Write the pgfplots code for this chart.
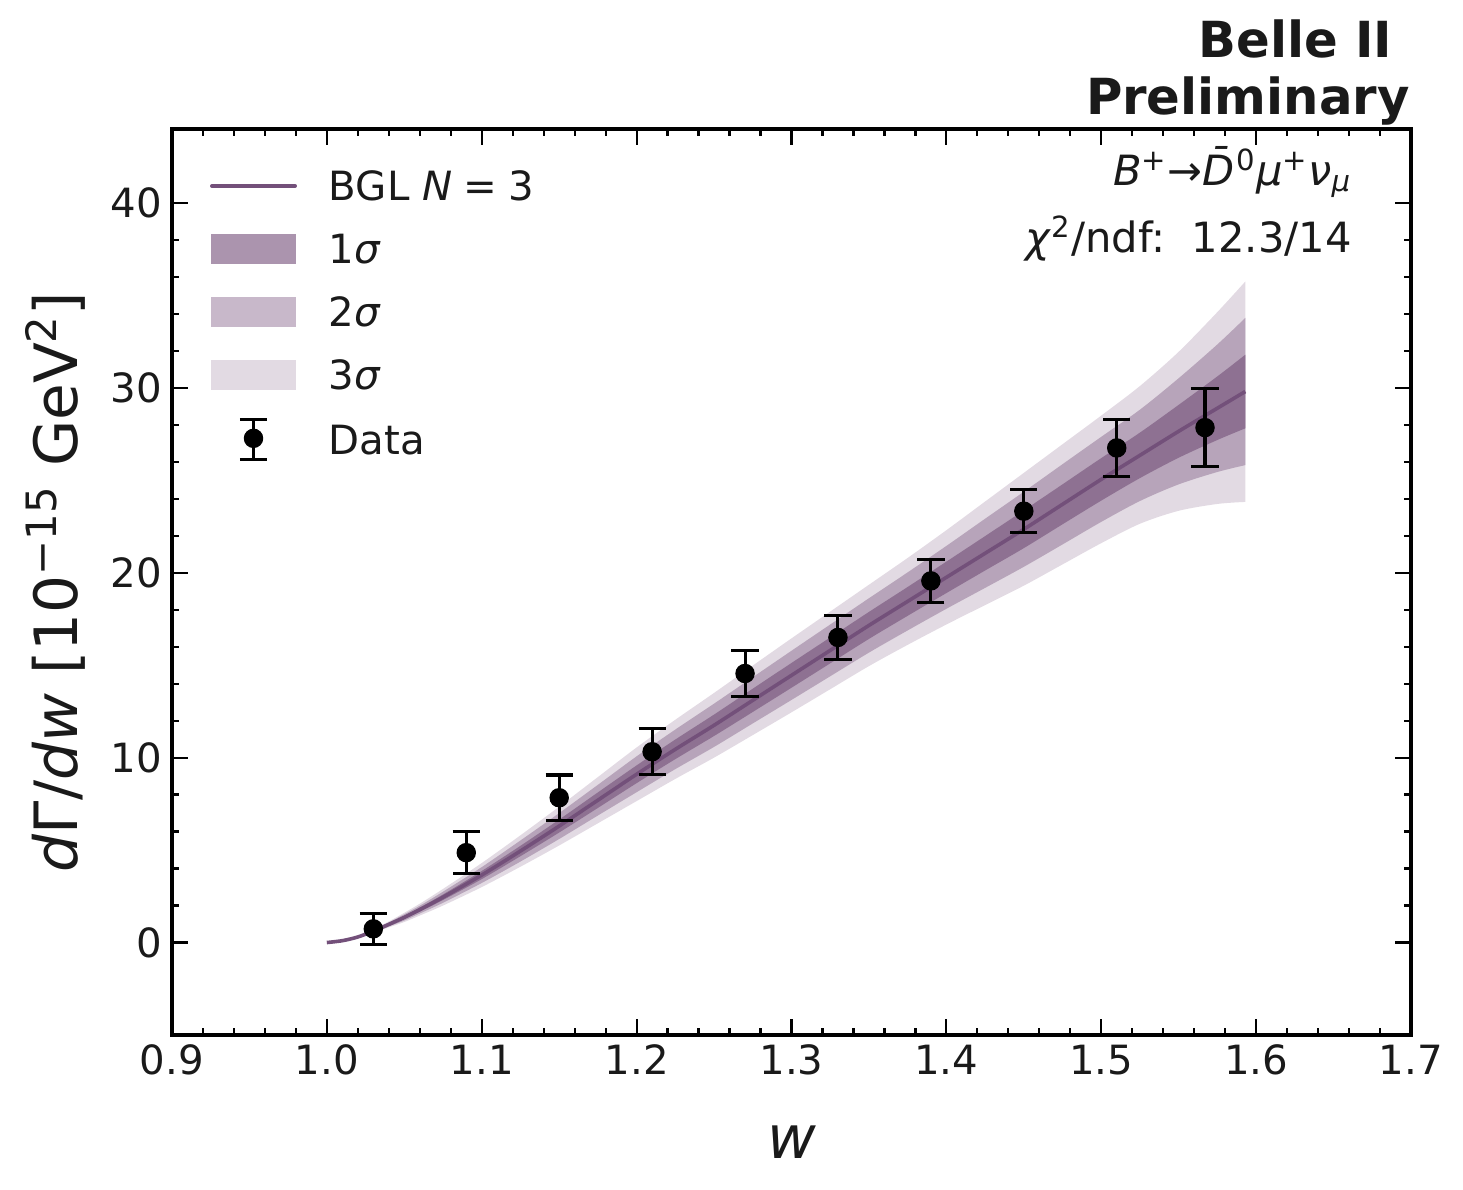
\documentclass[border=0pt]{standalone}
\usepackage{fontspec}
\setmainfont{DejaVu Sans}
\usepackage{pgfplots}
\pgfplotsset{compat=1.18}
\usepackage{pgfplotstable}
\usepgfplotslibrary{fillbetween}

\definecolor{cline}{HTML}{73507A}
\definecolor{cone}{HTML}{8E7192}
\definecolor{ctwo}{HTML}{B7A4BA}
\definecolor{cthree}{HTML}{E2DAE3}
\definecolor{lone}{HTML}{AB94AE}
\definecolor{ltwo}{HTML}{C8B8CA}
\definecolor{lthree}{HTML}{E2DAE3}
\definecolor{ctext}{HTML}{1A1A1A}

\pgfplotstableread{
w c lo3 lo2 lo1 hi1 hi2 hi3
1.000 0.00 0.00 0.00 0.00 0.00 0.00 0.00
1.010 0.10 0.09 0.09 0.10 0.10 0.11 0.11
1.020 0.30 0.25 0.27 0.28 0.32 0.33 0.35
1.030 0.62 0.52 0.55 0.59 0.65 0.69 0.72
1.040 0.98 0.82 0.87 0.93 1.03 1.09 1.14
1.050 1.36 1.11 1.19 1.28 1.44 1.53 1.61
1.060 1.78 1.46 1.57 1.67 1.89 1.99 2.10
1.075 2.45 2.00 2.15 2.30 2.60 2.75 2.90
1.100 3.65 3.00 3.22 3.43 3.87 4.08 4.30
1.125 4.95 4.10 4.38 4.67 5.23 5.52 5.80
1.150 6.30 5.25 5.60 5.95 6.65 7.00 7.35
1.175 7.70 6.45 6.87 7.28 8.12 8.53 8.95
1.200 9.10 7.65 8.13 8.62 9.58 10.07 10.55
1.225 10.45 8.85 9.38 9.92 10.98 11.52 12.05
1.250 11.75 10.00 10.58 11.17 12.33 12.92 13.50
1.275 13.10 11.22 11.85 12.47 13.73 14.35 14.98
1.300 14.45 12.45 13.12 13.78 15.12 15.78 16.45
1.325 15.80 13.70 14.40 15.10 16.50 17.20 17.90
1.350 17.15 14.95 15.68 16.42 17.88 18.62 19.35
1.375 18.45 16.10 16.88 17.67 19.23 20.02 20.80
1.400 19.75 17.20 18.05 18.90 20.60 21.45 22.30
1.425 21.05 18.25 19.18 20.12 21.98 22.92 23.85
1.450 22.35 19.30 20.32 21.33 23.37 24.38 25.40
1.475 23.70 20.45 21.53 22.62 24.78 25.87 26.95
1.500 25.05 21.60 22.75 23.90 26.20 27.35 28.50
1.525 26.35 22.65 23.88 25.12 27.58 28.82 30.10
1.550 27.65 23.35 24.78 26.22 29.08 30.52 31.95
1.575 28.90 23.72 25.45 27.18 30.62 32.35 34.10
1.593 29.80 23.83 25.82 27.81 31.79 33.78 35.75
}\band

\pgfplotstableread{
w y e
1.03 0.74 0.85
1.09 4.86 1.15
1.15 7.83 1.23
1.21 10.32 1.24
1.27 14.55 1.22
1.33 16.50 1.20
1.39 19.56 1.18
1.45 23.33 1.15
1.51 26.75 1.55
1.567 27.85 2.10
}\data

\begin{document}
\begin{tikzpicture}
\begin{axis}[
  scale only axis, clip mode=individual,
  width=446.04pt, height=326.16pt,
  xmin=0.9, xmax=1.7, ymin=-5, ymax=44,
  xtick={0.9,1.0,1.1,1.2,1.3,1.4,1.5,1.6,1.7},
  xticklabels={0.9,1.0,1.1,1.2,1.3,1.4,1.5,1.6,1.7},
  ytick={0,10,20,30,40},
  minor x tick num=4, minor y tick num=4,
  tick align=inside, tick pos=both,
  xticklabel pos=bottom, yticklabel pos=left,
  major tick length=5.8pt, minor tick length=2.6pt,
  tick style={line width=0.8pt, black},
  axis line style={line width=1.2pt, black},
  /pgf/number format/assume math mode=true,
  tick label style={font=\fontsize{14.5}{17}\selectfont, text=ctext},
  xlabel={\textit{w}},
  ylabel={\textit{d}Γ/\textit{dw} [10\textsuperscript{−15} GeV\textsuperscript{2}]},
  label style={font=\fontsize{21.5}{25}\selectfont, text=ctext},
  xlabel style={at={(axis description cs:0.5,-0.1358)}, anchor=base},
  ylabel style={at={(axis description cs:-0.0944,0.5)}, anchor=center},
  legend style={draw=none, fill=none, inner sep=0pt, outer sep=0pt,
    at={(axis description cs:0.0307,0.9598)}, anchor=north west,
    font=\fontsize{14.5}{17}\selectfont, text=ctext,
    row sep=7.9pt,
    nodes={inner sep=0pt, text height=12.65pt, text depth=2.15pt},
    /tikz/every odd column/.append style={column sep=11.5pt}},
  legend cell align=left,
]
\addlegendimage{legend image code/.code={\draw[cline, line width=1.3pt, line cap=round] (0pt,0pt)--(30pt,0pt);}}
\addlegendimage{legend image code/.code={\fill[lone] (0pt,-5.15pt) rectangle (30pt,5.15pt);}}
\addlegendimage{legend image code/.code={\fill[ltwo] (0pt,-5.15pt) rectangle (30pt,5.15pt);}}
\addlegendimage{legend image code/.code={\fill[lthree] (0pt,-5.15pt) rectangle (30pt,5.15pt);}}
\addlegendimage{legend image code/.code={\draw[black, line width=1.1pt] (15pt,-7.3pt)--(15pt,7.3pt) (10.1pt,-7.3pt)--(19.9pt,-7.3pt) (10.1pt,7.3pt)--(19.9pt,7.3pt); \fill[black] (15pt,0.4pt) circle (3.3pt);}}
\legend{BGL \textit{N}\hspace{0.28em}=\hspace{0.28em}3, 1\textit{σ}, 2\textit{σ}, 3\textit{σ}, Data}

\addplot[name path=H3, draw=none, smooth, forget plot] table[x=w, y=hi3]{\band};
\addplot[name path=L3, draw=none, smooth, forget plot] table[x=w, y=lo3]{\band};
\addplot[name path=H2, draw=none, smooth, forget plot] table[x=w, y=hi2]{\band};
\addplot[name path=L2, draw=none, smooth, forget plot] table[x=w, y=lo2]{\band};
\addplot[name path=H1, draw=none, smooth, forget plot] table[x=w, y=hi1]{\band};
\addplot[name path=L1, draw=none, smooth, forget plot] table[x=w, y=lo1]{\band};
\addplot[fill=cthree, draw=none, forget plot] fill between[of=H3 and L3];
\addplot[fill=ctwo, draw=none, forget plot] fill between[of=H2 and L2];
\addplot[fill=cone, draw=none, forget plot] fill between[of=H1 and L1];
\addplot[cline, line width=1.3pt, smooth, forget plot] table[x=w, y=c]{\band};

\addplot[black, only marks, mark=*, mark size=3.3pt, forget plot,
  error bars/.cd, y dir=both, y explicit,
  error bar style={line width=1.1pt, black},
  error mark options={rotate=90, mark size=4.9pt, line width=1.1pt, black}]
  table[x=w, y=y, y error=e]{\data};

\node[anchor=base east, font=\fontsize{15}{18}\selectfont, text=ctext] at (axis description cs:0.960,0.938)
  {\textit{B}\textsuperscript{+}→\textit{\={D}}\textsuperscript{0}\textit{μ}\textsuperscript{+}\textit{ν}\textsubscript{\textit{μ}}};
\node[anchor=base east, font=\fontsize{15}{18}\selectfont, text=ctext] at (axis description cs:0.960,0.864)
  {\textit{χ}\textsuperscript{2}/ndf:\ \ 12.3/14};
\node[anchor=base east, xshift=3pt, yshift=5.04pt, font=\fontsize{17.9}{21}\selectfont\bfseries, text=ctext] at (axis description cs:1,1) {Preliminary};
\node[anchor=base east, xshift=3pt, yshift=25.56pt, font=\fontsize{17.9}{21}\selectfont\bfseries, text=ctext] at (axis description cs:1,1) {Belle II\kern0.348em};

\coordinate (sw) at (axis description cs:0,0);
\coordinate (ne) at (axis description cs:1,1);
\end{axis}
\pgfresetboundingbox
\path[use as bounding box] ([xshift=-61.92pt,yshift=-55.8pt]sw) rectangle ([xshift=18.72pt,yshift=46.44pt]ne);
\end{tikzpicture}
\end{document}
